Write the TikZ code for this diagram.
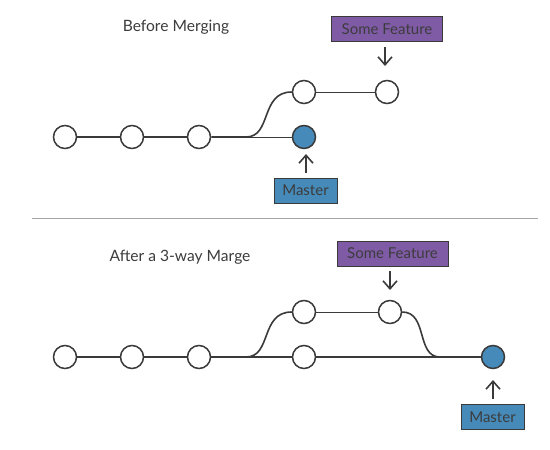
\documentclass[tikz,border=0pt]{standalone}
\usepackage{fontspec}
\setmainfont{Lato}
\usetikzlibrary{arrows.meta}
\definecolor{ln}{HTML}{3A3A3A}
\definecolor{feat}{HTML}{7F5BA6}
\definecolor{mast}{HTML}{468AB9}
\definecolor{txt}{HTML}{3C3C3C}
\tikzset{
  commit/.style={circle,draw=ln,line width=1.5pt,fill=white,minimum size=23pt,inner sep=0pt},
  headc/.style={commit,fill=mast},
  tag/.style={draw=ln,line width=0.8pt,text=txt,font=\fontsize{15}{17}\selectfont,inner sep=0pt,minimum height=25pt},
  ftag/.style={tag,fill=feat,minimum width=111pt},
  mtag/.style={tag,fill=mast,minimum width=63pt},
  thick line/.style={draw=ln,line width=1.6pt},
  thin line/.style={draw=ln,line width=0.8pt},
  ptr/.style={draw=ln,line width=1.6pt,-{Straight Barb[length=8pt,width=14pt]}},
  title/.style={text=txt,font=\fontsize{15.6}{18}\selectfont}
}
\begin{document}
\begin{tikzpicture}[x=1pt,y=-1pt]
\useasboundingbox (0,0) rectangle (550,450);
% ---------- top ----------
\node[title] (t1) at (176,27) {Before Merging};
\node[commit] (a1) at (65,137) {};
\node[commit] (a2) at (132,137) {};
\node[commit] (a3) at (199,137) {};
\node[commit] (a4) at (304,92) {};
\node[headc] (a5) at (304,137) {};
\node[commit] (a6) at (387,92) {};
\coordinate (ab1) at (246,137);
\draw[thick line] (a1) -- (a2);
\draw[thick line] (a2) -- (a3);
\draw[thick line] (a3) -- (ab1) .. controls (272,137) and (260,92) .. (a4.west);
\draw[thin line] (ab1) -- (a5);
\draw[thin line] (a4) -- (a6);
\node[ftag] (f1) at (387,29) {Some Feature};
\node[mtag] (m1) at (305.5,190.5) {Master};
\coordinate (f1p) at (385,47);
\coordinate (m1p) at (306,173);
\draw[ptr] (f1p) -- ++(0,19);
\draw[ptr] (m1p) -- ++(0,-19);
% separator
\coordinate (s1) at (32,218);
\coordinate (s2) at (538,218);
\draw[draw=gray!70,line width=0.6pt] (s1) -- (s2);
% ---------- bottom ----------
\node[title] (t2) at (180,257) {After a 3-way Marge};
\node[commit] (b1) at (65,357) {};
\node[commit] (b2) at (132,357) {};
\node[commit] (b3) at (199,357) {};
\node[commit] (b4) at (304,312) {};
\node[commit] (b5) at (304,357) {};
\node[commit] (b6) at (390,312) {};
\node[headc] (b7) at (493,357) {};
\coordinate (bb1) at (246,357);
\coordinate (bb2) at (440,357);
\draw[thick line] (b1) -- (b2);
\draw[thick line] (b2) -- (b3);
\draw[thick line] (b3) -- (b5);
\draw[thick line] (b5) -- (b7);
\draw[thick line] (bb1) .. controls (272,357) and (260,312) .. (b4.west);
\draw[thin line] (b4) -- (b6);
\draw[thick line] (b6.east) .. controls (428,312) and (416,357) .. (bb2);
\node[ftag] (f2) at (392.5,253.5) {Some Feature};
\node[mtag] (m2) at (492.5,417) {Master};
\coordinate (f2p) at (390,271);
\coordinate (m2p) at (493,399);
\draw[ptr] (f2p) -- ++(0,19);
\draw[ptr] (m2p) -- ++(0,-19);
\end{tikzpicture}
\end{document}
